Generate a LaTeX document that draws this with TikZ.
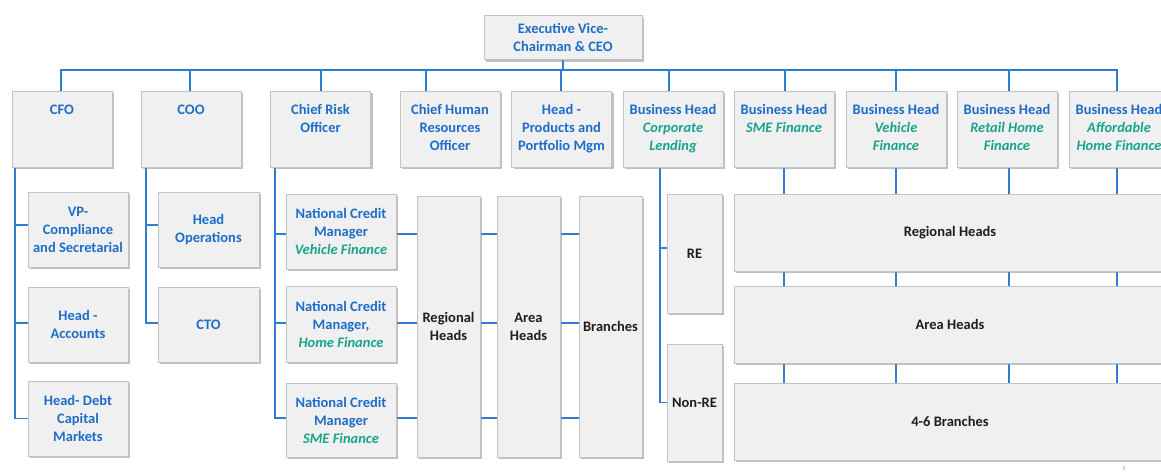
\documentclass[tikz,border=0pt]{standalone}
\usepackage{fontspec}
\setmainfont{Carlito}
\usetikzlibrary{shadows,backgrounds}
\definecolor{bt}{RGB}{30,110,200}
\definecolor{tl}{RGB}{25,165,140}
\definecolor{bfill}{RGB}{240,240,240}
\definecolor{bdraw}{RGB}{195,195,195}
\definecolor{ln}{RGB}{45,125,210}
\newcommand{\tit}[1]{{\color{tl}\itshape #1}}
\begin{document}
\begin{tikzpicture}[x=1pt,y=-1pt,
  box/.style={draw=bdraw, fill=bfill, line width=0.8pt,
    drop shadow={shadow xshift=2pt,shadow yshift=-2pt,fill=black!45,opacity=0.55},
    inner sep=1pt, font=\fontsize{14.5}{18}\selectfont\bfseries, align=center},
  bluebox/.style={box,text=bt},
  blackbox/.style={box,text=black!88},
  topbox/.style={bluebox,minimum width=100pt,minimum height=76pt},
  toptext/.style={anchor=north,inner sep=0pt,yshift=-11pt,text=bt,align=center,
    font=\fontsize{14.5}{18}\selectfont\bfseries},
  conn/.style={draw=ln,line width=1.6pt}]
\useasboundingbox (0,0) rectangle (1161,472);
\clip (0,0) rectangle (1161,472);

% boxes
\node[bluebox,minimum width=158pt,minimum height=44pt] (ceo) at (563,37.5) {Executive Vice-\\Chairman \& CEO};

\node[topbox,label={[toptext]north:\strut CFO}] (cfo) at (62,129) {};
\node[topbox,label={[toptext]north:\strut COO}] (coo) at (191,129) {};
\node[topbox,label={[toptext]north:\strut Chief Risk\\Officer}] (cro) at (320.5,129) {};
\node[topbox,label={[toptext]north:\strut Chief Human\\Resources\\Officer}] (chro) at (450,129) {};
\node[topbox,label={[toptext]north:\strut Head -\\Products and\\Portfolio Mgm}] (hpm) at (561.5,129) {};
\node[topbox,label={[toptext]north:\strut Business Head\\\tit{Corporate}\\\tit{Lending}}] (bhc) at (673,129) {};
\node[topbox,label={[toptext]north:\strut Business Head\\\tit{SME Finance}}] (bhs) at (784,129) {};
\node[topbox,label={[toptext]north:\strut Business Head\\\tit{Vehicle}\\\tit{Finance}}] (bhv) at (896,129) {};
\node[topbox,label={[toptext]north:\strut Business Head\\\tit{Retail Home}\\\tit{Finance}}] (bhr) at (1007,129) {};
\node[topbox,label={[toptext]north:\strut Business Head\\\tit{Affordable}\\\tit{Home Finance}}] (bha) at (1119,129) {};

\node[bluebox,minimum width=100pt,minimum height=75pt] (vp) at (78,229.5) {VP-\\Compliance\\and Secretarial};
\node[bluebox,minimum width=100pt,minimum height=75pt] (acc) at (78,324.5) {Head -\\Accounts};
\node[bluebox,minimum width=100pt,minimum height=75pt] (debt) at (78,418.5) {Head- Debt\\Capital\\Markets};
\node[bluebox,minimum width=101pt,minimum height=75pt] (hops) at (208.5,229.5) {Head\\Operations};
\node[bluebox,minimum width=101pt,minimum height=75pt] (cto) at (208.5,324.5) {CTO};

\node[bluebox,minimum width=110pt,minimum height=75pt] (ncm1) at (341,231.5) {National Credit\\Manager\\\tit{Vehicle Finance}};
\node[bluebox,minimum width=110pt,minimum height=76pt] (ncm2) at (341,324) {National Credit\\Manager,\\\tit{Home Finance}};
\node[bluebox,minimum width=110pt,minimum height=74pt] (ncm3) at (341,420) {National Credit\\Manager\\\tit{SME Finance}};

\node[blackbox,minimum width=63pt,minimum height=261pt] (reg) at (448.5,326.5) {Regional\\Heads};
\node[blackbox,minimum width=63pt,minimum height=261pt] (area) at (528.5,326.5) {Area\\Heads};
\node[blackbox,minimum width=63pt,minimum height=261pt] (brn) at (610.5,326.5) {Branches};

\node[blackbox,minimum width=55pt,minimum height=119pt] (re) at (694.5,253.5) {RE};
\node[blackbox,minimum width=55pt,minimum height=117pt] (nonre) at (694.5,402.5) {Non-RE};

\node[blackbox,minimum width=432pt,minimum height=77pt] (wreg) at (950,232.5) {Regional Heads};
\node[blackbox,minimum width=432pt,minimum height=77pt] (warea) at (950,324.5) {Area Heads};
\node[blackbox,minimum width=432pt,minimum height=77pt] (wbr) at (950,421.5) {4-6 Branches};

\node[text=black!50,font=\fontsize{6}{7}\selectfont,inner sep=0pt] (pg) at (1124,469) {1};

% connectors
\begin{scope}[on background layer]
\coordinate (bus) at ([yshift=-10pt]ceo.south);
\draw[conn] (ceo.south) -- (bus);
\foreach \n/\dx in {cfo/-1,coo/-1,cro/0.5,chro/-24,hpm/-0.5,bhc/-4,bhs/1,bhv/0,bhr/2,bha/-2}
  \draw[conn] (bus) -| ([xshift=\dx pt]\n.north);

\coordinate (cfoL) at ([xshift=-47pt]cfo.south);
\draw[conn] (cfoL) |- ([yshift=4.5pt]vp.west);
\draw[conn] (cfoL) |- ([yshift=1.5pt]acc.west);
\draw[conn] (cfoL) |- (debt.west);

\coordinate (cooL) at ([xshift=-45pt]coo.south);
\draw[conn] (cooL) |- ([yshift=4.5pt]hops.west);
\draw[conn] (cooL) |- ([yshift=1.5pt]cto.west);

\coordinate (croL) at ([xshift=-45.5pt]cro.south);
\draw[conn] (croL) |- ([yshift=-2.5pt]ncm1.west);
\draw[conn] (croL) |- ([yshift=1pt]ncm2.west);
\draw[conn] (croL) |- ([yshift=2pt]ncm3.west);

\coordinate (r1) at ([yshift=-2.5pt]ncm1.east);
\coordinate (r2) at ([yshift=1pt]ncm2.east);
\coordinate (r3) at ([yshift=2pt]ncm3.east);
\draw[conn] (r1) -- (r1 -| brn.west);
\draw[conn] (r2) -- (r2 -| brn.west);
\draw[conn] (r3) -- (r3 -| brn.west);

\coordinate (bhcL) at ([xshift=-13pt]bhc.south);
\draw[conn] (bhcL) |- ([yshift=5.5pt]re.west);
\draw[conn] (bhcL) |- (nonre.west);

\foreach \n/\dx in {bhs/0,bhv/0,bhr/2,bha/-2}{
  \coordinate (t) at ([xshift=\dx pt]\n.south);
  \draw[conn] (t) -- (t |- wbr.north);
}
\end{scope}
\end{tikzpicture}
\end{document}
